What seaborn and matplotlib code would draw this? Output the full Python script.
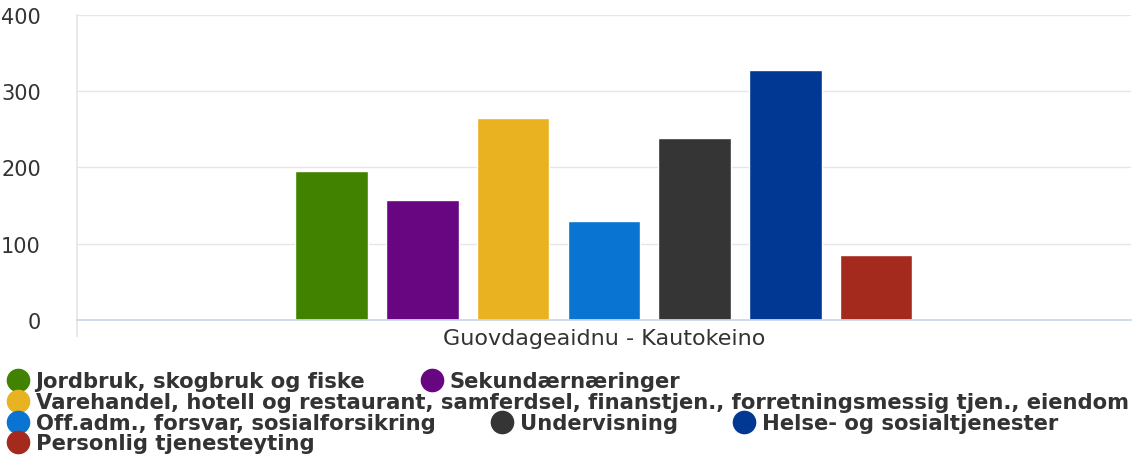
import pandas as pd
import matplotlib.pyplot as plt
import seaborn as sns
from matplotlib.lines import Line2D

# data
region = ["Guovdageaidnu - Kautokeino"]
sectors = [
    "Jordbruk, skogbruk og fiske",
    "Sekundærnæringer",
    "Varehandel, hotell og restaurant, samferdsel, finanstjen., forretningsmessig tjen., eiendom",
    "Off.adm., forsvar, sosialforsikring",
    "Undervisning",
    "Helse- og sosialtjenester",
    "Personlig tjenesteyting",
]
employees = [195, 157, 265, 129, 239, 328, 85]
colors = ["#418300", "#680682", "#e9b221", "#0a74d2", "#353535", "#003893", "#a52a1e"]
yticks = [0, 100, 200, 300, 400]

# legend rows as they wrap in the original
legend_rows = [[0, 1], [2], [3, 4, 5], [6]]

df = pd.DataFrame({"region": region * len(sectors), "sector": sectors, "value": employees})

sns.set_theme(style="white")
plt.rcParams["font.family"] = ["DejaVu Sans"]

fig = plt.figure(figsize=(11.33, 4.56), dpi=100)
ax = fig.add_axes([77 / 1133, 1 - 320.7 / 456, 1 - 77 / 1133 - 0.002, (320.7 - 16) / 456])

sns.barplot(data=df, x="region", y="value", hue="sector", hue_order=sectors,
            palette=colors, width=0.603, gap=0.2, saturation=1, legend=False, ax=ax)

ax.set_ylim(0, 400)
ax.set_xlim(-0.5, 0.5)
ax.set_yticks(yticks)
ax.grid(axis="y", color="#e6e6e6", linewidth=1)
ax.set_axisbelow(True)
for s in ["top", "right"]:
    ax.spines[s].set_visible(False)
ax.spines["left"].set_color("#e6e6e6")
ax.spines["bottom"].set_color("#ccd6eb")
ax.spines["left"].set_bounds(-22, 400)
ax.tick_params(axis="y", length=0, pad=26, labelsize=15, labelcolor="#333333")
ax.tick_params(axis="x", length=0, pad=6, labelsize=16, labelcolor="#333333")
ax.set_xlabel("")
ax.set_ylabel("")

# legend, one row at a time
row_y = [382, 403, 424, 444]
for row, y in zip(legend_rows, row_y):
    handles = [Line2D([], [], marker="o", linestyle="", markersize=16,
                      markerfacecolor=colors[i], markeredgecolor=colors[i]) for i in row]
    labels = [sectors[i] for i in row]
    fig.legend(handles, labels, loc="center left", bbox_to_anchor=(6 / 1133, 1 - y / 456),
               ncol=len(row), frameon=False, borderpad=0, borderaxespad=0,
               handletextpad=0.3, columnspacing=2.6, handlelength=1.1,
               prop={"size": 15.2, "weight": "bold"}, labelcolor="#333333")

fig.savefig("out.png", dpi=100)
